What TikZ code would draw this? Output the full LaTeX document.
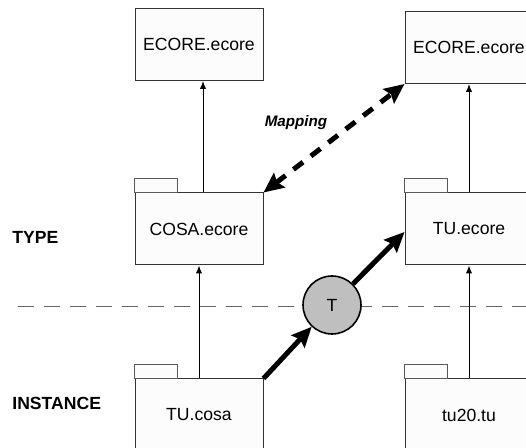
\documentclass[tikz,border=0pt]{standalone}
\usepackage{fontspec}
\setmainfont{Liberation Sans}
\usepackage{tikz}
\usetikzlibrary{arrows.meta, positioning}
\tikzset{
  box/.style      = {rectangle, draw=black!80, fill=black!1, line width=0.5pt,
                     minimum width=64pt, minimum height=36pt, inner sep=0pt,
                     font=\fontsize{8.8}{10}\selectfont},
  tab/.style      = {draw=black!65, fill=black!1, line width=0.5pt},
  inst/.style     = {-{Latex[length=4pt, width=3.2pt]}, line width=0.5pt},
  trans/.style    = {-{Stealth[length=10pt, width=9pt, inset=1.5pt]}, line width=2.5pt},
  maplink/.style  = {{Stealth[length=10pt, width=9pt, inset=1.5pt]}-{Stealth[length=10pt, width=9pt, inset=1.5pt]},
                     line width=2.5pt, dash pattern=on 6pt off 5pt},
  maplab/.style   = {font=\fontsize{7.6}{9}\selectfont\bfseries\itshape, inner sep=0pt},
  levellab/.style = {font=\fontsize{8.8}{10}\selectfont\bfseries, inner sep=0pt, anchor=west},
  sep/.style      = {draw=black!60, line width=0.5pt, dash pattern=on 8pt off 5pt},
  tnode/.style    = {circle, draw, fill=black!25, line width=0.8pt, minimum size=29pt,
                     inner sep=0pt, font=\fontsize{8.8}{10}\selectfont},
}
\begin{document}
\begin{tikzpicture}[x=0.5pt, y=-0.5pt]
  \useasboundingbox (0,0) rectangle (526,448);
  \clip (0,0) rectangle (526,448);
  \draw[sep] (18,307) -- (526,307);

  % meta-meta level
  \node[box] (ecoreL) at (199,44.5) {ECORE.ecore};
  \node[box] (ecoreR) at (469,47.5) {ECORE.ecore};
  % type level
  \node[box] (cosa)    at (199,229) {COSA.ecore};
  \node[box] (tuecore) at (469,229) {TU.ecore};
  % instance level
  \node[box] (tucosa) at (199,415) {TU.cosa};
  \node[box] (tutu)   at (469,415) {tu20.tu};
  \foreach \p in {cosa, tuecore, tucosa, tutu}
    \draw[tab] (\p.north west) rectangle ++(43,-14);

  \node[levellab] (typelab) at (12,237) {TYPE};
  \node[levellab] (instlab) at (12,403) {INSTANCE};

  \draw[inst] ([xshift=2pt]cosa.north) -- ([xshift=2pt]cosa.north |- ecoreL.south);
  \draw[inst] (tuecore.north) -- (ecoreR.south);
  \draw[inst] (tucosa.north) -- (cosa.south);
  \draw[inst] (tutu.north) -- (tuecore.south);

  \draw[maplink] (cosa.north east) -- (ecoreR.south west)
    node[maplab, pos=0.5, xshift=-19pt, yshift=7.8pt] {Mapping};

  \node[tnode] (t) at (332,305) {T};
  \draw[trans] (tucosa.north east) -- (t);
  \draw[trans] (t) -- ([yshift=-1.5pt]tuecore.west);
\end{tikzpicture}
\end{document}
